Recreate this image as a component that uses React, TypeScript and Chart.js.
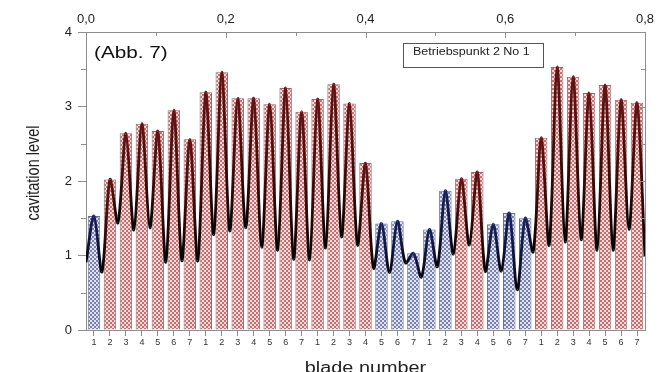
import { useEffect, useRef } from 'react';
import { Chart, registerables } from 'chart.js';

Chart.register(...registerables);

// ---- data ----
const bladeLabels = [
  '1', '2', '3', '4', '5', '6', '7',
  '1', '2', '3', '4', '5', '6', '7',
  '1', '2', '3', '4', '5', '6', '7',
  '1', '2', '3', '4', '5', '6', '7',
  '1', '2', '3', '4', '5', '6', '7',
];
const cavitationLevels = [
  1.53, 2.02, 2.64, 2.77, 2.67, 2.95, 2.56,
  3.19, 3.46, 3.11, 3.11, 3.03, 3.25, 2.93,
  3.10, 3.30, 3.04, 2.24, 1.43, 1.46, 1.03,
  1.35, 1.87, 2.03, 2.12, 1.42, 1.57, 1.50,
  2.58, 3.53, 3.40, 3.18, 3.29, 3.09, 3.05,
];
// blades in the low-cavitation regime (blue bars)
const lowRegime = [
  true, false, false, false, false, false, false,
  false, false, false, false, false, false, false,
  false, false, false, false, true, true, true,
  true, true, false, false, true, true, true,
  false, false, false, false, false, false, false,
];
const curveStart = 0.91;
// minimum of the signal after each blade
const curveTroughs = [
  0.78, 1.44, 1.34, 1.37, 0.91, 0.93, 0.93,
  1.28, 1.33, 1.37, 1.11, 1.07, 0.95, 0.94,
  1.10, 1.25, 1.14, 0.83, 0.77, 0.90, 0.71,
  0.85, 1.02, 1.14, 0.79, 0.79, 0.54, 1.05,
  1.14, 1.18, 1.21, 1.07, 1.07, 1.35, 0.98,
];
const topAxisMin = 0;
const topAxisMax = 0.8;
const topAxisStep = 0.2;
const yMin = 0;
const yMax = 4;
const yStep = 1;
const annotationText = '(Abb. 7)';
const legendText = 'Betriebspunkt 2 No 1';
const xTitle = 'blade number';
const yTitle = 'cavitation level';

const FONT = '"Liberation Sans", Arial, sans-serif';
const AXIS = '#8e8e8e';

function makePattern(bg: string, fg: string) {
  const c = document.createElement('canvas');
  c.width = 4;
  c.height = 4;
  const g = c.getContext('2d')!;
  g.fillStyle = bg;
  g.fillRect(0, 0, 4, 4);
  g.fillStyle = fg;
  g.fillRect(0, 0, 2, 2);
  g.fillRect(2, 2, 2, 2);
  return g.createPattern(c, 'repeat')!;
}

function stretchedText(ctx: CanvasRenderingContext2D, text: string, x: number, y: number, font: string, sx: number, align: CanvasTextAlign = 'left') {
  ctx.save();
  ctx.translate(x, y);
  ctx.scale(sx, 1);
  ctx.font = font;
  ctx.textAlign = align;
  ctx.textBaseline = 'alphabetic';
  ctx.fillText(text, 0, 0);
  ctx.restore();
}

const decoPlugin = {
  id: 'deco',
  afterDraw(chart: any) {
    const { ctx, chartArea: a, scales } = chart;
    ctx.save();
    ctx.strokeStyle = AXIS;
    ctx.lineWidth = 1;
    const seg = (x1: number, y1: number, x2: number, y2: number) => {
      ctx.beginPath();
      ctx.moveTo(x1, y1);
      ctx.lineTo(x2, y2);
      ctx.stroke();
    };
    // top axis inward ticks (major + minor)
    const x2 = scales.x2;
    const nTop = Math.round((topAxisMax - topAxisMin) / (topAxisStep / 2));
    for (let k = 0; k <= nTop; k++) {
      const v = topAxisMin + (k * topAxisStep) / 2;
      const px = Math.round(x2.getPixelForValue(v)) + 0.5;
      seg(px, a.top, px, a.top + (k % 2 === 0 ? 6 : 4));
    }
    // right axis inward ticks, left axis minor outward ticks
    const y = scales.y;
    const nY = Math.round((yMax - yMin) / (yStep / 2));
    for (let k = 0; k <= nY; k++) {
      const v = yMin + (k * yStep) / 2;
      const py = Math.round(y.getPixelForValue(v)) + 0.5;
      seg(a.right, py, a.right - (k % 2 === 0 ? 6 : 4), py);
      if (k % 2 === 1) seg(a.left - 5, py, a.left, py);
    }
    // annotation
    ctx.fillStyle = '#111';
    stretchedText(ctx, annotationText, 94, 58, `17px ${FONT}`, 1.22);
    // legend box
    ctx.fillStyle = '#fff';
    ctx.fillRect(403, 43, 140, 24);
    ctx.strokeStyle = '#555';
    ctx.strokeRect(403.5, 43.5, 140, 24);
    ctx.fillStyle = '#222';
    stretchedText(ctx, legendText, 413, 55, `10px ${FONT}`, 1.25);
    // axis titles
    ctx.fillStyle = '#222';
    stretchedText(ctx, xTitle, (a.left + a.right) / 2, 373, `16px ${FONT}`, 1.24, 'center');
    ctx.save();
    ctx.translate(34, (a.top + a.bottom) / 2 - 8);
    ctx.scale(1.25, 1);
    ctx.rotate(-Math.PI / 2);
    ctx.font = `14.5px ${FONT}`;
    ctx.textAlign = 'center';
    ctx.textBaseline = 'middle';
    ctx.fillText(yTitle, 0, 0);
    ctx.restore();
    ctx.restore();
  },
};

export default function App() {
  const ref = useRef<HTMLCanvasElement>(null);

  useEffect(() => {
    const canvas = ref.current!;
    const g2 = canvas.getContext('2d')!;
    const redFill = makePattern('#f6dada', '#c96f6f');
    const blueFill = makePattern('#dfe2f1', '#7b81b2');

    const linePoints: { x: number; y: number }[] = [{ x: -0.5, y: curveStart }];
    cavitationLevels.forEach((v, i) => {
      linePoints.push({ x: i, y: v });
      linePoints.push({ x: i + 0.5, y: curveTroughs[i] });
    });

    const segColor = (c: any) => {
      const peakIsP1 = c.p1DataIndex % 2 === 1;
      const peak = peakIsP1 ? c.p1 : c.p0;
      const trough = peakIsP1 ? c.p0 : c.p1;
      const idx = ((peakIsP1 ? c.p1DataIndex : c.p0DataIndex) - 1) / 2;
      const col = lowRegime[idx] ? '#1a2258' : '#641414';
      if (!peak || !trough || Math.abs(peak.y - trough.y) < 1) return '#000';
      const gr = g2.createLinearGradient(0, trough.y, 0, peak.y);
      gr.addColorStop(0, '#030303');
      gr.addColorStop(0.35, lowRegime[idx] ? '#0d1235' : '#300909');
      gr.addColorStop(1, col);
      return gr;
    };

    const chart = new Chart(canvas, {
      type: 'bar',
      data: {
        labels: bladeLabels,
        datasets: [
          {
            type: 'line',
            data: linePoints,
            xAxisID: 'xl',
            yAxisID: 'y',
            borderColor: '#000',
            borderWidth: 2.8,
            pointRadius: 0,
            tension: 0.3,
            fill: false,
            segment: { borderColor: segColor },
          } as any,
          {
            type: 'bar',
            data: cavitationLevels,
            xAxisID: 'x',
            yAxisID: 'y',
            grouped: false,
            backgroundColor: cavitationLevels.map((_, i) => (lowRegime[i] ? blueFill : redFill)),
            borderColor: cavitationLevels.map((_, i) => (lowRegime[i] ? '#6a6e8c' : '#8a7070')),
            borderWidth: 1,
            categoryPercentage: 1,
            barPercentage: 0.78,
          } as any,
        ],
      },
      options: {
        responsive: false,
        animation: false,
        layout: { padding: { left: 0, right: 23, top: 0, bottom: 0 } },
        plugins: { legend: { display: false }, tooltip: { enabled: false } },
        scales: {
          x: {
            type: 'category',
            position: 'bottom',
            offset: true,
            grid: { display: true, drawOnChartArea: false, drawTicks: true, tickLength: 6, offset: false, color: AXIS },
            border: { display: true, color: AXIS },
            ticks: { autoSkip: false, maxRotation: 0, padding: 1, color: '#333', font: { size: 9, family: FONT } },
            afterFit: (s: any) => { s.height = 42; },
          },
          x2: {
            type: 'linear',
            position: 'top',
            offset: false,
            min: topAxisMin,
            max: topAxisMax,
            grid: { display: true, offset: false, drawOnChartArea: false, drawTicks: false, color: AXIS },
            border: { display: true, color: AXIS },
            ticks: {
              stepSize: topAxisStep,
              padding: 5,
              color: '#222',
              font: { size: 13, family: FONT },
              callback: (v: any) => Number(v).toFixed(1).replace('.', ','),
            },
            afterFit: (s: any) => { s.height = 32; },
          },
          xl: {
            type: 'linear',
            display: false,
            offset: false,
            grid: { offset: false },
            min: -0.5,
            max: cavitationLevels.length - 0.5,
          },
          y: {
            type: 'linear',
            position: 'left',
            min: yMin,
            max: yMax,
            grid: { display: true, drawOnChartArea: false, drawTicks: true, tickLength: 8, color: AXIS },
            border: { display: true, color: AXIS },
            ticks: { stepSize: yStep, padding: 6, color: '#222', font: { size: 13, family: FONT } },
            afterFit: (s: any) => { s.width = 86; },
          },
          y2: {
            type: 'linear',
            position: 'right',
            min: yMin,
            max: yMax,
            grid: { display: true, drawOnChartArea: false, drawTicks: false, color: AXIS },
            border: { display: true, color: AXIS },
            ticks: { display: false },
            afterFit: (s: any) => { s.width = 0; },
          },
        },
      } as any,
      plugins: [decoPlugin],
    });

    return () => chart.destroy();
  }, []);

  return (
    <div style={{ position: 'fixed', left: 0, top: 0, width: 668, height: 372, background: '#fff' }}>
      <canvas ref={ref} width={668} height={372} style={{ display: 'block' }} />
    </div>
  );
}
